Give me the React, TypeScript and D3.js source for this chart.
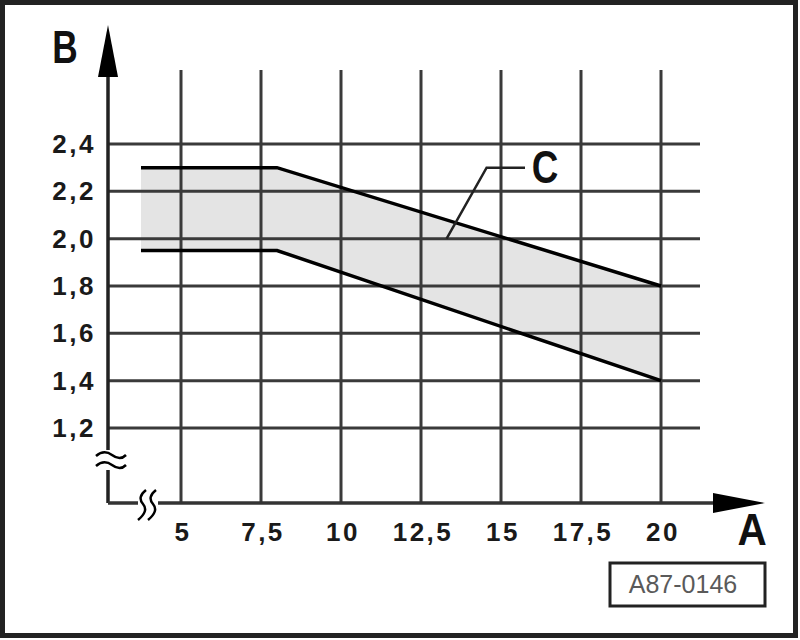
import React from "react";
import * as d3 from "d3";

const xTicks = [5, 7.5, 10, 12.5, 15, 17.5, 20];
const yTicks = [1.2, 1.4, 1.6, 1.8, 2.0, 2.2, 2.4];
const xTickLabels = ["5", "7,5", "10", "12,5", "15", "17,5", "20"];
const yTickLabels = ["1,2", "1,4", "1,6", "1,8", "2,0", "2,2", "2,4"];
const upperX = [3.75, 8, 20];
const upperY = [2.3, 2.3, 1.8];
const lowerX = [3.75, 8, 20];
const lowerY = [1.95, 1.95, 1.4];
const leaderX = [13.3, 14.55, 15.75];
const leaderY = [2.0, 2.3, 2.3];
const xAxisTitle = "A";
const yAxisTitle = "B";
const bandLabel = "C";
const figureCode = "A87-0146";

const W = 800;
const H = 640;
const axisX = 108;
const axisY = 503;
const gridTop = 70;
const gridRight = 700;

export default function App() {
  const x = d3.scaleLinear().domain([5, 20]).range([181, 661]);
  const y = d3.scaleLinear().domain([1.2, 2.4]).range([428, 144]);

  const upper = upperX.map((v, i) => [v, upperY[i]] as [number, number]);
  const lower = lowerX.map((v, i) => [v, lowerY[i]] as [number, number]);
  const leader = leaderX.map((v, i) => [v, leaderY[i]] as [number, number]);
  const line = d3.line<[number, number]>().x((d) => x(d[0])).y((d) => y(d[1]));
  const area = d3
    .area<number>()
    .x((_, i) => x(upperX[i]))
    .y0((_, i) => y(lowerY[i]))
    .y1((_, i) => y(upperY[i]));

  const gridColor = "#3a3a3a";
  const font = "Liberation Sans, Arial, sans-serif";

  return (
    <svg
      width={W}
      height={H}
      style={{ position: "absolute", left: 0, top: 0, background: "#fff" }}
      fontFamily={font}
    >
      <rect x={0} y={0} width={W} height={H} fill="#fff" />
      <rect x={2.5} y={2.5} width={W - 7} height={H - 7} fill="none" stroke="#222" strokeWidth={5} />

      {/* band */}
      <path d={area(upperX) || ""} fill="#e4e4e4" />

      {/* grid */}
      {xTicks.map((t) => (
        <line key={"vx" + t} x1={x(t)} x2={x(t)} y1={gridTop} y2={axisY} stroke={gridColor} strokeWidth={3} />
      ))}
      {yTicks.map((t) => (
        <line key={"hy" + t} x1={axisX} x2={gridRight} y1={y(t)} y2={y(t)} stroke={gridColor} strokeWidth={3} />
      ))}

      {/* data lines */}
      <path d={line(upper) || ""} fill="none" stroke="#000" strokeWidth={3.5} />
      <path d={line(lower) || ""} fill="none" stroke="#000" strokeWidth={3.5} />

      {/* axes */}
      <line x1={axisX} x2={axisX} y1={axisY} y2={75} stroke="#222" strokeWidth={3.5} />
      <polygon points={`${axisX},25 ${axisX - 10},77 ${axisX + 10},77`} fill="#000" />
      <line x1={axisX} x2={715} y1={axisY} y2={axisY} stroke="#333" strokeWidth={3.5} />
      <polygon points={`765,503 713,493 713,513`} fill="#000" />

      {/* axis breaks */}
      <rect x={100} y={450} width={16} height={20} fill="#fff" />
      <path d="M96,456 Q104,449 112,455 T126,455" fill="none" stroke="#000" strokeWidth={2.5} />
      <path d="M96,466 Q104,459 112,465 T126,465" fill="none" stroke="#000" strokeWidth={2.5} />
      <rect x={138} y={497} width={20} height={12} fill="#fff" />
      <path d="M146,490 Q137,497 143,504 T138,520" fill="none" stroke="#000" strokeWidth={2.5} />
      <path d="M156,490 Q147,497 153,504 T148,520" fill="none" stroke="#000" strokeWidth={2.5} />

      {/* tick labels */}
      {yTicks.map((t, i) => (
        <text
          key={"ly" + t}
          x={96}
          y={y(t) + 9}
          textAnchor="end"
          fontSize={26}
          fontWeight="bold"
          letterSpacing={2.5}
          fill="#1a1a1a"
        >
          {yTickLabels[i]}
        </text>
      ))}
      {xTicks.map((t, i) => (
        <text
          key={"lx" + t}
          x={x(t) + 2}
          y={541}
          textAnchor="middle"
          fontSize={26}
          fontWeight="bold"
          letterSpacing={2.5}
          fill="#1a1a1a"
        >
          {xTickLabels[i]}
        </text>
      ))}

      {/* titles */}
      <text
        transform="translate(65,63) scale(0.75,1)"
        textAnchor="middle"
        fontSize={47}
        fontWeight="bold"
        fill="#111"
      >
        {yAxisTitle}
      </text>
      <text
        transform="translate(752,545) scale(0.9,1)"
        textAnchor="middle"
        fontSize={45}
        fontWeight="bold"
        fill="#111"
      >
        {xAxisTitle}
      </text>

      {/* C leader */}
      <path d={line(leader) || ""} fill="none" stroke="#222" strokeWidth={2.5} />
      <text
        transform="translate(545,183) scale(0.8,1)"
        textAnchor="middle"
        fontSize={46}
        fontWeight="bold"
        fill="#111"
      >
        {bandLabel}
      </text>

      {/* figure code box */}
      <rect x={610} y={563} width={155} height={43} fill="#fff" stroke="#222" strokeWidth={3} />
      <text x={683} y={593} textAnchor="middle" fontSize={25} fill="#5a5a5a">
        {figureCode}
      </text>
    </svg>
  );
}
